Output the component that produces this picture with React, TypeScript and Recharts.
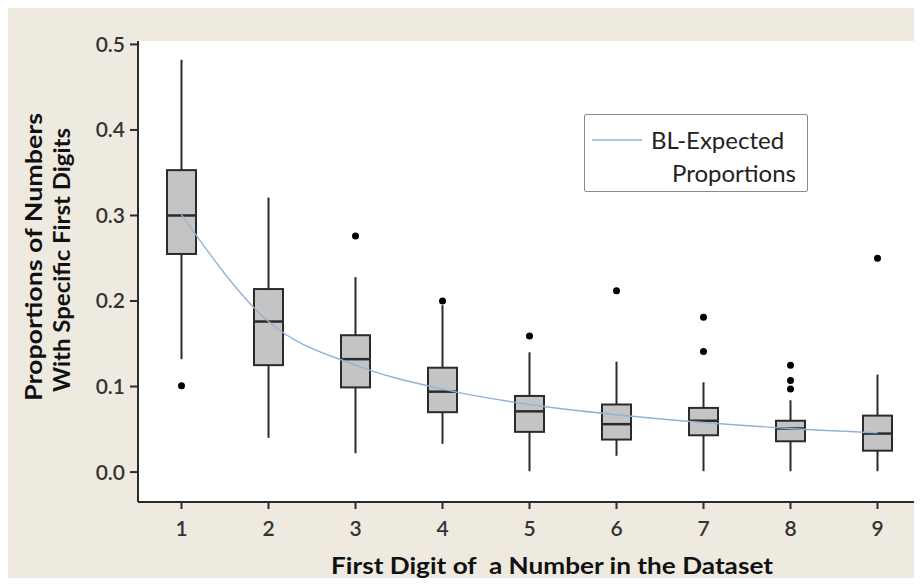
import {
  ComposedChart,
  Bar,
  Line,
  Scatter,
  XAxis,
  YAxis,
  CartesianGrid,
} from 'recharts';

// five-number summaries, one entry per first digit
const digits = [1, 2, 3, 4, 5, 6, 7, 8, 9];
const whiskerLow = [0.132, 0.04, 0.022, 0.033, 0.001, 0.019, 0.001, 0.001, 0.001];
const q1 = [0.255, 0.125, 0.099, 0.07, 0.047, 0.038, 0.043, 0.036, 0.025];
const median = [0.3, 0.176, 0.132, 0.094, 0.071, 0.056, 0.06, 0.051, 0.045];
const q3 = [0.353, 0.214, 0.16, 0.122, 0.089, 0.079, 0.075, 0.06, 0.066];
const whiskerHigh = [0.482, 0.321, 0.228, 0.195, 0.14, 0.129, 0.105, 0.084, 0.114];

// Benford's law expected proportions
const expected = [0.301, 0.176, 0.125, 0.097, 0.079, 0.067, 0.058, 0.051, 0.046];

const outlierDigits = [1, 3, 4, 5, 6, 7, 7, 8, 8, 8, 9];
const outlierValues = [0.101, 0.276, 0.2, 0.159, 0.212, 0.181, 0.141, 0.125, 0.107, 0.097, 0.25];

const yTicks = [0, 0.1, 0.2, 0.3, 0.4, 0.5];

const rows = digits.map((d, i) => ({
  digit: d,
  box: [q1[i], q3[i]],
  low: whiskerLow[i],
  q1: q1[i],
  median: median[i],
  q3: q3[i],
  high: whiskerHigh[i],
  expected: expected[i],
}));

const outliers = outlierDigits.map((d, i) => ({ digit: d, value: outlierValues[i] }));

const FONT = 'Lato, "Open Sans", sans-serif';
const INK = '#2b2b2b';

function BoxShape(props: any) {
  const { x, y, width, height, payload } = props;
  const top = Math.min(y, y + height);
  const h = Math.abs(height);
  // pixels per unit, taken from the bar the library already scaled
  const ppu = h / (payload.q3 - payload.q1);
  const py = (v: number) => top + (payload.q3 - v) * ppu;
  const cx = x + width / 2;
  return (
    <g>
      <line x1={cx} x2={cx} y1={py(payload.high)} y2={top} stroke={INK} strokeWidth={2} />
      <line x1={cx} x2={cx} y1={top + h} y2={py(payload.low)} stroke={INK} strokeWidth={2} />
      <rect x={x} y={top} width={width} height={h} fill="#c4c4c4" stroke={INK} strokeWidth={2} />
      <line x1={x} x2={x + width} y1={py(payload.median)} y2={py(payload.median)} stroke={INK} strokeWidth={2.5} />
    </g>
  );
}

const Dot = (p: any) => <circle cx={p.cx} cy={p.cy} r={3.5} fill="#000" />;

const YTitle = () => (
  <g fontFamily={FONT} fontWeight={700} fontSize={23} fill="#111" style={{ whiteSpace: 'pre' }}>
    <text
      x={42}
      y={257}
      transform="rotate(-90 42 257)"
      textAnchor="middle"
      textLength={288}
      lengthAdjust="spacingAndGlyphs"
    >
      {'Proportions  of Numbers'}
    </text>
    <text
      x={70}
      y={260}
      transform="rotate(-90 70 260)"
      textAnchor="middle"
      textLength={264}
      lengthAdjust="spacingAndGlyphs"
    >
      With Specific First Digits
    </text>
  </g>
);

const XTitle = () => (
  <text
    x={552}
    y={574}
    textAnchor="middle"
    fontFamily={FONT}
    fontWeight={700}
    fontSize={23}
    fill="#111"
    textLength={442}
    lengthAdjust="spacingAndGlyphs"
    style={{ whiteSpace: 'pre' }}
  >
    {'First Digit of  a Number in the Dataset'}
  </text>
);

const LegendBox = () => (
  <div
    style={{
      position: 'absolute',
      left: 584,
      top: 114,
      width: 222,
      height: 76,
      border: '1.5px solid #8a8a8a',
      borderRadius: 2,
      background: '#fff',
      fontFamily: FONT,
      fontSize: 24,
      lineHeight: '29px',
      color: '#222',
    }}
  >
    <svg width={52} height={10} style={{ position: 'absolute', left: 7, top: 20 }}>
      <line x1={0} x2={50} y1={5} y2={5} stroke="#93b3d3" strokeWidth={1.5} />
    </svg>
    <div style={{ position: 'absolute', left: 66, top: 10 }}>BL-Expected</div>
    <div style={{ position: 'absolute', right: 11, top: 43 }}>Proportions</div>
  </div>
);

export default function App() {
  return (
    <div
      style={{
        margin: -8,
        width: 922,
        height: 586,
        background: '#eeeae0',
        overflow: 'hidden',
        position: 'relative',
      }}
    >
      <ComposedChart
        width={922}
        height={586}
        data={rows}
        margin={{ top: 41, right: 0, bottom: 24, left: 0 }}
      >
        <CartesianGrid horizontal={false} vertical={false} fill="#ffffff" />
        <XAxis
          dataKey="digit"
          type="number"
          domain={[0.5, 9.5]}
          ticks={digits}
          allowDataOverflow
          height={60}
          axisLine={{ stroke: INK, strokeWidth: 2 }}
          tickLine={{ stroke: INK, strokeWidth: 2 }}
          tickSize={7}
          tickMargin={12}
          tick={{ fill: '#333', fontSize: 21, fontWeight: 600, fontFamily: FONT }}
          label={{ content: XTitle }}
        />
        <XAxis
          xAxisId="top"
          orientation="top"
          type="number"
          domain={[0.5, 9.5]}
          height={0}
          tick={false}
          tickLine={false}
          axisLine={{ stroke: INK, strokeWidth: 2 }}
        />
        <YAxis
          type="number"
          domain={[-0.035, 0.504]}
          ticks={yTicks}
          allowDataOverflow
          width={138}
          tickFormatter={(v: number) => v.toFixed(1)}
          axisLine={{ stroke: INK, strokeWidth: 2 }}
          tickLine={{ stroke: INK, strokeWidth: 2 }}
          tickSize={8}
          tickMargin={5}
          tick={{ fill: '#333', fontSize: 21, fontWeight: 600, fontFamily: FONT }}
          label={{ content: YTitle }}
        />
        <YAxis
          yAxisId="right"
          orientation="right"
          width={1}
          tick={false}
          tickLine={false}
          axisLine={{ stroke: '#cfcfcf', strokeWidth: 1 }}
        />
        <Bar dataKey="box" barSize={29} shape={BoxShape} isAnimationActive={false} />
        <Line
          dataKey="expected"
          type="monotone"
          stroke="#93b3d3"
          strokeWidth={1.4}
          dot={false}
          activeDot={false}
          isAnimationActive={false}
        />
        <Scatter data={outliers} dataKey="value" shape={Dot} isAnimationActive={false} />
      </ComposedChart>
      <LegendBox />
    </div>
  );
}
